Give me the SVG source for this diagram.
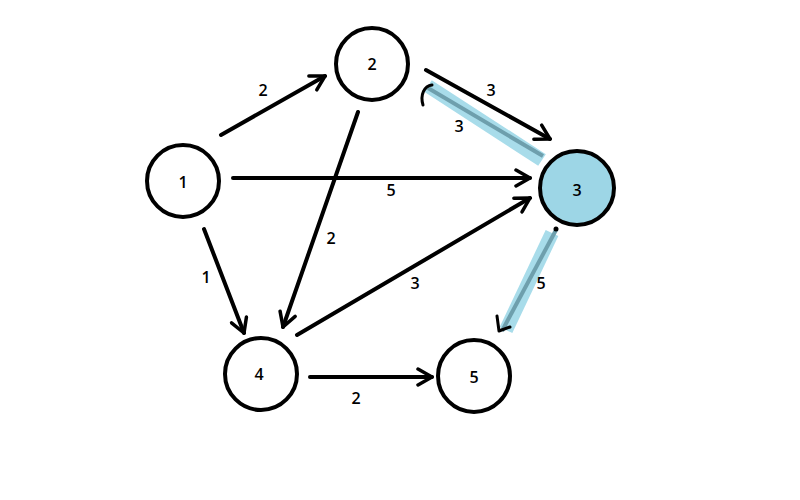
<svg xmlns="http://www.w3.org/2000/svg" width="800" height="500" viewBox="0 0 800 500">
<defs>
<marker id="arr" viewBox="0 0 20 20" refX="17" refY="10" markerWidth="20" markerHeight="20" markerUnits="userSpaceOnUse" orient="auto">
<path d="M3,2 L17,10 L3,18" fill="none" stroke="#000" stroke-width="3.5" stroke-linecap="round" stroke-linejoin="round"/>
</marker>
</defs>
<style>
.node circle{fill:#fff;stroke:#000;stroke-width:4}
.node.hl circle{fill:#9dd6e6}
.node text,.lbl{font-family:"Open Sans","Liberation Sans",Arial,sans-serif;font-weight:600;font-size:16px;fill:#000;text-anchor:middle;dominant-baseline:central}
.e{stroke:#000;stroke-width:4;fill:none;stroke-linecap:round;marker-end:url(#arr)}
.glow{stroke:#a8dcea;stroke-width:14;fill:none;stroke-linecap:butt}
.core{stroke:#6e9fad;stroke-width:4;fill:none}
</style>
<rect width="800" height="500" fill="#fff"/>
<g id="connectors">
<line class="e" x1="221" y1="135" x2="325" y2="76"/>
<line class="e" x1="233" y1="178" x2="530" y2="178"/>
<line class="e" x1="204" y1="229" x2="244" y2="333"/>
<line class="e" x1="358" y1="112" x2="283" y2="327"/>
<line class="e" x1="426" y1="70" x2="550" y2="139"/>
<line class="e" x1="297" y1="335" x2="530" y2="198"/>
<line class="e" x1="310" y1="377" x2="432" y2="377"/>
<line class="glow" x1="428" y1="86" x2="542" y2="160"/>
<line class="core" x1="428" y1="88" x2="543" y2="156"/>
<path d="M432,85 C424,86 420,95 423,105" fill="none" stroke="#000" stroke-width="3" stroke-linecap="round"/>
<line class="glow" x1="552" y1="233" x2="506" y2="330"/>
<line class="core" x1="556" y1="230" x2="502" y2="331"/>
<circle cx="556" cy="229" r="2.5" fill="#000"/>
<path d="M497,316 L499,331 L510,327" fill="none" stroke="#000" stroke-width="3" stroke-linecap="round" stroke-linejoin="round"/>
<text class="lbl" x="263" y="90">2</text>
<text class="lbl" x="391" y="190">5</text>
<text class="lbl" x="206" y="277">1</text>
<text class="lbl" x="331" y="238">2</text>
<text class="lbl" x="491" y="90">3</text>
<text class="lbl" x="459" y="126">3</text>
<text class="lbl" x="415" y="283">3</text>
<text class="lbl" x="541" y="283">5</text>
<text class="lbl" x="356" y="398">2</text>
</g>
<g id="node1" class="node"><circle cx="183" cy="181" r="36"/><text x="183" y="182">1</text></g>
<g id="node2" class="node"><circle cx="372" cy="64" r="36"/><text x="372" y="64">2</text></g>
<g id="node3" class="node hl"><circle cx="577" cy="188" r="37"/><text x="577" y="190">3</text></g>
<g id="node4" class="node"><circle cx="261" cy="374" r="36"/><text x="259" y="374">4</text></g>
<g id="node5" class="node"><circle cx="474" cy="376" r="36"/><text x="474" y="377">5</text></g>
</svg>
